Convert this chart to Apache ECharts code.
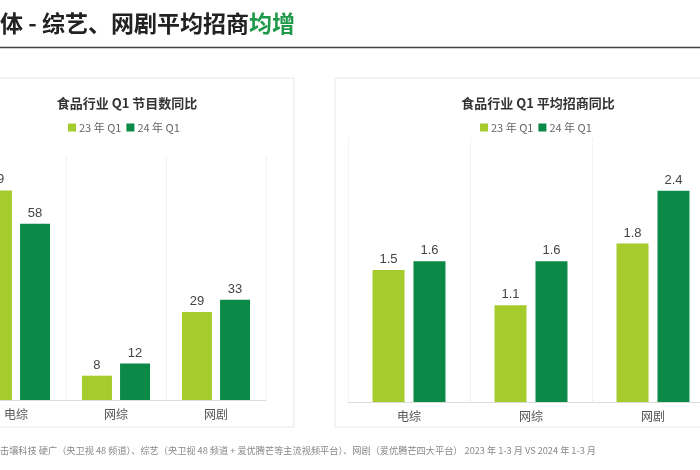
<!DOCTYPE html>
<html>
<head>
<meta charset="utf-8">
<script src="https://cdn.jsdelivr.net/npm/echarts@6/dist/echarts.min.js"></script>
<style>html,body{margin:0;padding:0;background:#fff;}#c{width:700px;height:470px;}</style>
</head>
<body>
<div id="c"></div>
<script>
var categories = ['电综', '网综', '网剧'];
var seriesNames = ['23 年 Q1', '24 年 Q1'];
var countQ1_23 = [69, 8, 29];
var countQ1_24 = [58, 12, 33];
var avgQ1_23 = [1.5, 1.1, 1.8];
var avgQ1_24 = [1.6, 1.6, 2.4];
var leftTitle = '食品行业 Q1 节目数同比';
var rightTitle = '食品行业 Q1 平均招商同比';
var footerText = '击壤科技 硬广（央卫视 48 频道）、综艺（央卫视 48 频道 + 爱优腾芒等主流视频平台）、网剧（爱优腾芒四大平台） 2023 年 1-3 月 VS 2024 年 1-3 月';

var C1 = '#a6cb2d', C2 = '#0b8a47';
var font = '"Noto Sans CJK SC", "Liberation Sans", sans-serif';

function xAxisCfg(grid) {
  return {
    type: 'category', gridIndex: grid, data: categories,
    axisLine: { lineStyle: { color: '#dcdcdc' } },
    axisTick: { show: false },
    axisLabel: { color: '#555', fontSize: 12, margin: 8, fontFamily: font },
    splitLine: { show: true, lineStyle: { color: '#e6e6e6', type: 'dotted' } }
  };
}
function yAxisCfg(grid, max) {
  return {
    type: 'value', gridIndex: grid, min: 0, max: max,
    show: false, splitLine: { show: false }
  };
}
function barSeries(name, data, color, xi, width, gap) {
  return {
    type: 'bar', name: name, data: data, xAxisIndex: xi, yAxisIndex: xi,
    barWidth: width, barGap: gap,
    itemStyle: { color: color },
    label: { show: true, position: 'top', color: '#444', fontSize: 13, distance: 4, fontFamily: 'Liberation Sans, sans-serif' }
  };
}

var chart = echarts.init(document.getElementById('c'));
chart.setOption({
  animation: false,
  backgroundColor: '#fff',
  graphic: [
    { type: 'rect', shape: { x: -20, y: 78, width: 314, height: 349 }, style: { fill: '#fff', stroke: '#efefef', lineWidth: 1.5 }, z: -1 },
    { type: 'rect', shape: { x: 335, y: 78, width: 400, height: 349 }, style: { fill: '#fff', stroke: '#efefef', lineWidth: 1.5 }, z: -1 },
    { type: 'text', left: 0, top: 12, style: { text: '{a|体 - 综艺、网剧平均招商}{b|均增}', rich: {
        a: { fontSize: 23, fontWeight: 'bold', fill: '#222', fontFamily: font },
        b: { fontSize: 23, fontWeight: 'bold', fill: '#1f9a4a', fontFamily: font } } } },
    { type: 'line', shape: { x1: 0, y1: 47.5, x2: 700, y2: 47.5 }, style: { stroke: '#444', lineWidth: 1.5 } },
    { type: 'text', left: 0, top: 446, style: { text: footerText, fontSize: 9.2, fill: '#888', fontFamily: font } }
  ],
  title: [
    { text: leftTitle, left: 122, top: 92, textAlign: 'center', textStyle: { fontSize: 13, fontWeight: 'bold', color: '#333', fontFamily: font } },
    { text: rightTitle, left: 533, top: 92, textAlign: 'center', textStyle: { fontSize: 13, fontWeight: 'bold', color: '#333', fontFamily: font } }
  ],
  legend: [
    { data: seriesNames, left: 68, top: 122, padding: 0, icon: 'rect', itemWidth: 8, itemHeight: 8, itemGap: 5,
      textStyle: { color: '#666', fontSize: 11, padding: [0, 0, 0, -2], fontFamily: font } },
    { data: seriesNames, left: 480, top: 122, padding: 0, icon: 'rect', itemWidth: 8, itemHeight: 8, itemGap: 5,
      textStyle: { color: '#666', fontSize: 11, padding: [0, 0, 0, -2], fontFamily: font } }
  ],
  grid: [
    { left: -34, top: 157, width: 300, height: 243, outerBoundsMode: 'none', containLabel: false },
    { left: 348, top: 138, width: 366, height: 264, outerBoundsMode: 'none', containLabel: false }
  ],
  xAxis: [xAxisCfg(0), xAxisCfg(1)],
  yAxis: [yAxisCfg(0, 80), yAxisCfg(1, 3)],
  series: [
    barSeries(seriesNames[0], countQ1_23, C1, 0, 30, '27%'),
    barSeries(seriesNames[1], countQ1_24, C2, 0, 30, '27%'),
    barSeries(seriesNames[0], avgQ1_23, C1, 1, 32, '28%'),
    barSeries(seriesNames[1], avgQ1_24, C2, 1, 32, '28%')
  ]
});
</script>
</body>
</html>
